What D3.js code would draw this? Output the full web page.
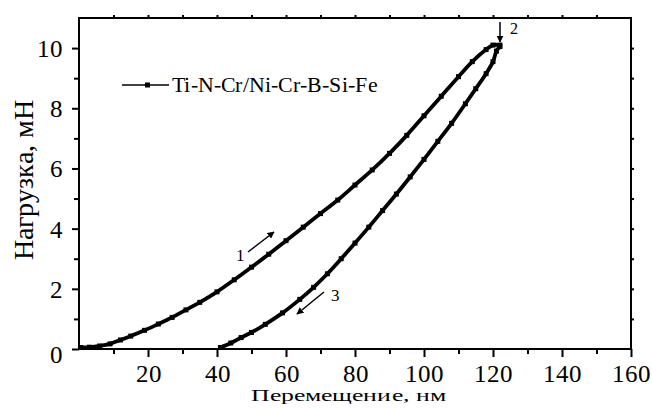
<!DOCTYPE html>
<html><head><meta charset="utf-8">
<script src="https://cdn.jsdelivr.net/npm/d3@7"></script>
<style>
@font-face{font-family:"TimesLocal";src:local("Liberation Serif"),local("LiberationSerif"),local("LiberationSerif-Regular"),local("Times New Roman");}
body{margin:0;background:#fff;}
svg text{font-family:"TimesLocal","Liberation Serif","Times New Roman",serif !important;fill:#000;}
</style></head>
<body><svg id="c" width="652" height="408"></svg>
<script>
const seriesName = "Ti-N-Cr/Ni-Cr-B-Si-Fe";
const xLabel = "Перемещение, нм";
const yLabel = "Нагрузка, мН";
const xTickLabels = [20,40,60,80,100,120,140,160];
const yTickLabels = [0,2,4,6,8,10];
// loading branch: displacement (nm), load (mN)
const loadX = [0.5,3,6,9,12,15,19,23,27,31,35,40,45,50,55,60,65,70,75,80,85,90,95,100,105,110,114,118,120,122];
const loadY = [0.05,0.06,0.1,0.17,0.3,0.43,0.62,0.83,1.05,1.3,1.55,1.9,2.3,2.72,3.15,3.6,4.05,4.5,4.95,5.45,5.95,6.5,7.1,7.75,8.4,9.05,9.55,9.95,10.1,10.1];
// unloading branch
const unloadX = [122,121,120,118,115,112,108,104,100,96,92,88,84,80,76,72,68,64,59,54,50,47,44,41];
const unloadY = [10.05,9.9,9.55,9.15,8.65,8.15,7.5,6.9,6.3,5.72,5.15,4.6,4.05,3.52,3.0,2.5,2.05,1.65,1.2,0.82,0.55,0.38,0.2,0.05];

const svg = d3.select("#c");
const L=79,R=631,T=18,B=349;
const x = d3.scaleLinear().domain([0,160]).range([L,R]);
const y = d3.scaleLinear().domain([0,11]).range([B,T]);

svg.append("defs").append("marker").attr("id","ah").attr("viewBox","0 0 10 10")
  .attr("refX",9).attr("refY",5).attr("markerWidth",7).attr("markerHeight",7)
  .attr("markerUnits","userSpaceOnUse").attr("orient","auto")
  .append("path").attr("d","M0,0L10,5L0,10z").attr("fill","#000");

// frame
svg.append("rect").attr("x",L).attr("y",T).attr("width",R-L).attr("height",B-T)
  .attr("fill","none").attr("stroke","#000").attr("stroke-width",2);

function styleAxis(g){g.select(".domain").remove();g.attr("font-family",null);g.selectAll("line").attr("stroke","#000").attr("stroke-width",2);}
// bottom axis
svg.append("g").attr("transform",`translate(0,${B})`)
  .call(d3.axisBottom(x).tickValues(d3.range(10,160,20)).tickSize(5).tickFormat(""))
  .call(styleAxis);
const bx = svg.append("g").attr("transform",`translate(0,${B})`)
  .call(d3.axisBottom(x).tickValues(xTickLabels).tickSize(8).tickFormat(d3.format("d")))
  .call(styleAxis);
bx.selectAll("text").attr("y",33).attr("dy",null).attr("font-size",25);
// left axis
svg.append("g").attr("transform",`translate(${L},0)`)
  .call(d3.axisLeft(y).tickValues(d3.range(1,11,2)).tickSize(5).tickFormat(""))
  .call(styleAxis);
const ly = svg.append("g").attr("transform",`translate(${L},0)`)
  .call(d3.axisLeft(y).tickValues(yTickLabels).tickSize(7).tickFormat(d3.format("d")))
  .call(styleAxis);
ly.selectAll("text").attr("x",-16).attr("dy",null).attr("y",d=>d===0?13:8.5).attr("font-size",25);
// top and right small ticks
svg.append("g").attr("transform",`translate(0,${T})`)
  .call(d3.axisTop(x).tickValues(d3.range(10,160,10)).tickSize(3).tickFormat(""))
  .call(styleAxis);
svg.append("g").attr("transform",`translate(${R},0)`)
  .call(d3.axisRight(y).tickValues(d3.range(1,11,1)).tickSize(3).tickFormat(""))
  .call(styleAxis);

// curves
const line = d3.line().x(d=>x(d[0])).y(d=>y(d[1])).curve(d3.curveCatmullRom);
const loadPts = loadX.map((v,i)=>[v,loadY[i]]);
const unloadPts = unloadX.map((v,i)=>[v,unloadY[i]]);
[loadPts,unloadPts].forEach(p=>{
  svg.append("path").datum(p).attr("d",line).attr("fill","none").attr("stroke","#000")
    .attr("stroke-width",3.8).attr("stroke-linecap","round");
  svg.append("g").selectAll("rect").data(p).join("rect")
    .attr("x",d=>x(d[0])-2.5).attr("y",d=>y(d[1])-2.5).attr("width",5).attr("height",5).attr("fill","#000");
});

// legend
svg.append("line").attr("x1",122).attr("x2",169).attr("y1",85).attr("y2",85).attr("stroke","#000").attr("stroke-width",1.6);
svg.append("rect").attr("x",145).attr("y",82.5).attr("width",5).attr("height",5).attr("fill","#000");
svg.append("text").attr("x",172).attr("y",92).attr("font-size",21).attr("textLength",205).attr("lengthAdjust","spacingAndGlyphs").text(seriesName);

// axis titles
svg.append("text").attr("x",(250+447)/2).attr("y",401).attr("text-anchor","middle").attr("font-size",16)
  .attr("textLength",196).attr("lengthAdjust","spacingAndGlyphs").text(xLabel);
svg.append("text").attr("transform","translate(33,180) rotate(-90)").attr("text-anchor","middle").attr("font-size",28)
  .text(yLabel);

// annotations
function arrow(x1,y1,x2,y2){svg.append("line").attr("x1",x1).attr("y1",y1).attr("x2",x2).attr("y2",y2)
  .attr("stroke","#000").attr("stroke-width",1.5).attr("marker-end","url(#ah)");}
arrow(248,252,274,232);
svg.append("text").attr("x",240).attr("y",261).attr("text-anchor","middle").attr("font-size",17).text("1");
arrow(500,22,500,42);
svg.append("text").attr("x",514).attr("y",34).attr("text-anchor","middle").attr("font-size",16).text("2");
arrow(324,292,297,314);
svg.append("text").attr("x",335).attr("y",301).attr("text-anchor","middle").attr("font-size",17).text("3");
</script></body></html>
